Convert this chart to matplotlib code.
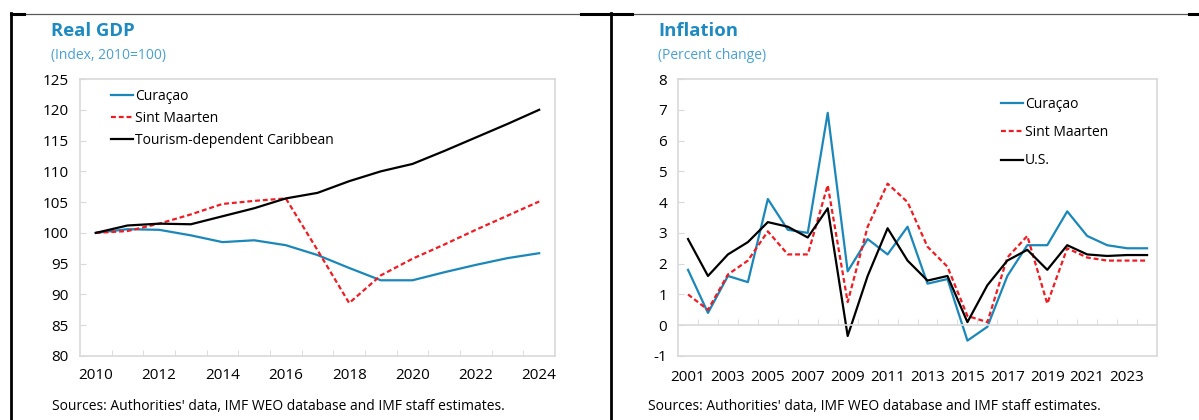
import numpy as np
import matplotlib
matplotlib.use("Agg")
import matplotlib.pyplot as plt
from matplotlib.lines import Line2D
from matplotlib.ticker import FixedLocator

plt.rcParams['font.family'] = ['Open Sans', 'DejaVu Sans']
plt.rcParams['axes.unicode_minus'] = False

# Real GDP (index, 2010=100)
gdp_years = list(range(2010, 2025))
gdp_curacao = [100.0, 100.6, 100.5, 99.6, 98.5, 98.8, 98.0, 96.4, 94.3, 92.3, 92.3, 93.6, 94.8, 95.9, 96.7]
gdp_sint_maarten = [100.0, 100.3, 101.5, 103.0, 104.7, 105.2, 105.6, 97.2, 88.6, 93.1, 95.8, 98.1, 100.5, 102.8, 105.1]
gdp_caribbean = [100.0, 101.2, 101.5, 101.4, 102.7, 104.0, 105.6, 106.5, 108.4, 110.0, 111.2, 113.3, 115.5, 117.7, 120.0]

# Inflation (percent change)
inf_years = list(range(2001, 2025))
inf_curacao = [1.8, 0.4, 1.6, 1.4, 4.1, 3.1, 3.0, 6.9, 1.75, 2.8, 2.3, 3.2, 1.35, 1.5, -0.5,
               -0.05, 1.6, 2.6, 2.6, 3.7, 2.9, 2.6, 2.5, 2.5]
inf_sint_maarten = [1.0, 0.5, 1.65, 2.1, 3.05, 2.3, 2.3, 4.55, 0.75, 3.2, 4.6, 4.0, 2.55, 1.9, 0.3,
                    0.1, 2.2, 2.9, 0.7, 2.5, 2.2, 2.1, 2.1, 2.1]
inf_us = [2.8, 1.6, 2.3, 2.7, 3.35, 3.2, 2.85, 3.8, -0.35, 1.6, 3.15, 2.1, 1.45, 1.6, 0.1,
          1.3, 2.1, 2.45, 1.8, 2.6, 2.3, 2.25, 2.28, 2.28]

BLUE = '#1b87b9'
RED = '#ee1c24'
TITLE_BLUE = '#1f8ac0'
SUB_BLUE = '#4aa0d2'
GRID = '#d9d9d9'
DASH = (0, (2.2, 1.3))
SOURCE = "Sources: Authorities' data, IMF WEO database and IMF staff estimates."

fig = plt.figure(figsize=(11.99, 4.2), dpi=100)

def frame(ax):
    for s in ax.spines.values():
        s.set_color(GRID)
        s.set_linewidth(1.2)
    ax.tick_params(axis='y', direction='in', length=4, color=GRID, labelsize=11, pad=8)
    ax.tick_params(axis='x', which='major', length=0, labelsize=11)
    ax.tick_params(axis='x', which='minor', direction='in', length=4, color=GRID)

# ---- left panel: Real GDP
ax1 = fig.add_axes([0.0667, 0.1524, 0.3962, 0.6595])
x1 = np.arange(len(gdp_years))
ax1.plot(x1, gdp_curacao, color=BLUE, lw=1.6, label='Curaçao')
ax1.plot(x1, gdp_sint_maarten, color=RED, lw=1.6, ls=DASH, label='Sint Maarten')
ax1.plot(x1, gdp_caribbean, color='black', lw=1.6, label='Tourism-dependent Caribbean')
ax1.set_xlim(-0.5, len(gdp_years) - 0.5)
ax1.set_ylim(80, 125)
ax1.set_yticks(range(80, 126, 5))
ax1.set_xticks(x1[::2])
ax1.set_xticklabels([str(y) for y in gdp_years[::2]])
ax1.xaxis.set_minor_locator(FixedLocator(x1[:-1] + 0.5))
frame(ax1)
ax1.tick_params(axis='x', which='major', pad=9)
ax1.legend(loc='upper left', bbox_to_anchor=(0.053, 0.985), frameon=False, fontsize=10,
           handlelength=1.6, handletextpad=0.15, labelspacing=0.52, borderaxespad=0)

fig.text(0.0425, 0.925, 'Real GDP', color=TITLE_BLUE, fontsize=13.3, fontweight='bold', va='center')
fig.text(0.0425, 0.869, '(Index, 2010=100)', color=SUB_BLUE, fontsize=10, va='center')
fig.text(0.0434, 0.031, SOURCE, fontsize=10, va='center')

# ---- right panel: Inflation
ax2 = fig.add_axes([0.5655, 0.1524, 0.3995, 0.6595])
x2 = np.arange(len(inf_years))
ax2.plot(x2, inf_curacao, color=BLUE, lw=1.6, label='Curaçao')
ax2.plot(x2, inf_sint_maarten, color=RED, lw=1.6, ls=DASH, label='Sint Maarten')
ax2.plot(x2, inf_us, color='black', lw=1.6, label='U.S.')
ax2.set_xlim(-0.5, len(inf_years) - 0.5)
ax2.set_ylim(-1, 8)
ax2.set_yticks(range(-1, 9))
ax2.set_xticks(x2[::2])
ax2.set_xticklabels([str(y) for y in inf_years[::2]])
ax2.xaxis.set_minor_locator(FixedLocator(x2[:-1] + 0.5))
frame(ax2)
ax2.spines['bottom'].set_position(('data', 0))
ax2.tick_params(axis='x', which='major', pad=32)
ax2.axhline(-1, color=GRID, lw=1.2, clip_on=False, zorder=0)
ax2.legend(loc='upper left', bbox_to_anchor=(0.6625, 0.955), frameon=False, fontsize=10,
           handlelength=1.6, handletextpad=0.15, labelspacing=0.95, borderaxespad=0)

fig.text(0.5488, 0.925, 'Inflation', color=TITLE_BLUE, fontsize=13.3, fontweight='bold', va='center')
fig.text(0.5488, 0.869, '(Percent change)', color=SUB_BLUE, fontsize=10, va='center')
fig.text(0.5405, 0.031, SOURCE, fontsize=10, va='center')

# ---- page frame lines
def fline(x0, x1_, y0, y1, **kw):
    fig.add_artist(Line2D([x0 / 1199, x1_ / 1199], [1 - y0 / 420, 1 - y1 / 420], **kw))

fline(24, 1189, 13.5, 13.5, color='#595959', lw=0.9)
fline(11, 24, 14, 14, color='black', lw=2.2)
fline(581, 632, 14, 14, color='black', lw=2.2)
fline(1189, 1199, 14, 14, color='black', lw=2.2)
fline(11, 11, 13, 420, color='black', lw=2)
fline(611, 611, 13, 420, color='black', lw=2)

fig.savefig('out.png', dpi=100)
